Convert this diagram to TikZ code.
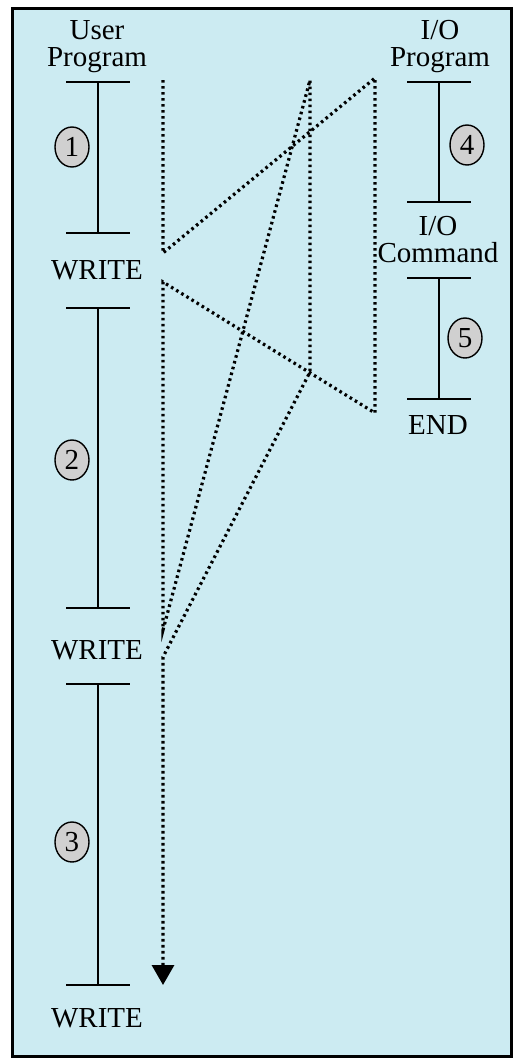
\documentclass[tikz,border=0pt]{standalone}
\usepackage{fontspec}
\setmainfont{Liberation Serif}
\usetikzlibrary{arrows.meta,shapes.geometric}
\definecolor{panel}{RGB}{204,235,242}
\definecolor{stepgray}{RGB}{208,208,208}
\begin{document}
\begin{tikzpicture}[x=0.5pt,y=-0.5pt,
  lbl/.style={font=\fontsize{14.5}{13.5}\selectfont,align=center,inner sep=0pt},
  num/.style={ellipse,draw,line width=0.7pt,fill=stepgray,minimum width=17pt,minimum height=20pt,inner sep=0pt,font=\fontsize{14.5}{14.5}\selectfont},
  flow/.style={line width=1.6pt,dash pattern=on 1.3pt off 1.7pt},
  bar/.style={line width=0.9pt}]
\useasboundingbox (0,0) rectangle (515,1060);
\draw[line width=1.5pt,fill=panel] (12,8) rectangle (511,1056);
% time lines
\foreach \n/\y in {1/82,2/233,3/308,4/608,5/684,6/985} {
  \coordinate (u\n) at (98,\y);
}
\foreach \n/\y in {1/82,2/202,3/278,4/399} {
  \coordinate (p\n) at (439,\y);
}
\foreach \a/\b in {u1/u2,u3/u4,u5/u6,p1/p2,p3/p4} {
  \draw[bar] (\a) -- (\b);
}
\foreach \t in {u1,u2,u3,u4,u5,u6,p1,p2,p3,p4} {
  \draw[bar] (\t) +(-32,0) -- +(32,0);
}
% labels
\node[lbl] (user) at (97,47) {User\\Program};
\node[lbl] (w1) at (97,270) {WRITE};
\node[lbl] (w2) at (97,650) {WRITE};
\node[lbl] (w3) at (97,1018) {WRITE};
\node[lbl] (io) at (440,47) {I/O\\Program};
\node[lbl] (cmd) at (438,240) {I/O\\Command};
\node[lbl] (end) at (438,425) {END};
\node[num] (c1) at (72,147) {1};
\node[num] (c2) at (72,460) {2};
\node[num] (c3) at (72,842) {3};
\node[num] (c4) at (467,145) {4};
\node[num] (c5) at (465,338) {5};
% control flow
\coordinate (d1) at (163,80);
\coordinate (d2) at (163,253);
\coordinate (d3) at (375,78);
\coordinate (d4) at (375,413);
\coordinate (d5) at (163,282);
\coordinate (d6) at (163,630);
\coordinate (d7) at (310,80);
\coordinate (d8) at (310,372);
\coordinate (d9) at (163,657);
\coordinate (d10) at (163,985);
\draw[flow,-{Triangle[width=11pt,length=10pt]}]
  (d1) -- (d2) -- (d3) -- (d4) -- (d5) -- (d6) -- (d7) -- (d8) -- (d9) -- (d10);
\end{tikzpicture}
\end{document}
